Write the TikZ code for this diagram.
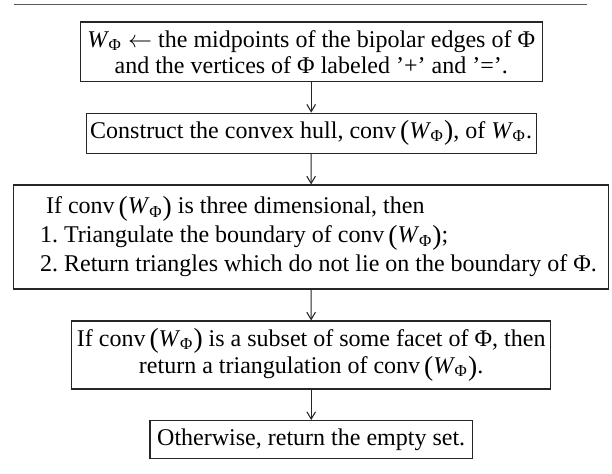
\documentclass[tikz,border=0pt]{standalone}
\usepackage{fontspec}
\setmainfont{Liberation Serif}
\usetikzlibrary{arrows.meta}
\frenchspacing

% W with an upright Phi subscript, and conv(W_Phi) with slightly enlarged parentheses
\newcommand\WPhi{\textit{W}\kern-0.2pt\textsubscript{\upshape Φ}}
\newcommand\lpar{\raisebox{-0.8pt}{\fontsize{11.5}{12}\selectfont(}}
\newcommand\rpar{\raisebox{-0.8pt}{\fontsize{11.5}{12}\selectfont)}}
\newcommand\convW{conv\,\lpar\WPhi\rpar}

\tikzset{
  stepbox/.style={draw=black!85, line width=0.5pt, inner sep=0pt},
  flow/.style={draw=black!85, line width=0.45pt,
    -{Straight Barb[length=3pt,width=3.6pt,line width=0.45pt]}},
  toprule/.style={draw=black!65, line width=0.6pt}
}

\begin{document}
\begin{tikzpicture}[x=0.41667pt, y=-0.41667pt]
\useasboundingbox (0,0) rectangle (612,474);

% rule above the procedure
\coordinate (ruleL) at (14,4.5);
\coordinate (ruleR) at (587,4.5);
\draw[toprule] (ruleL) -- (ruleR);

% the steps
\node[stepbox, align=center, font=\fontsize{10}{10.7}\selectfont,
      minimum width=192.5pt, minimum height=24.9pt]
  (s1) at (311.2,51.9)
  {\WPhi\ $\leftarrow$ the midpoints of the bipolar edges of Φ\\
   and the vertices of Φ labeled ’+’ and ’=’.};

\node[stepbox, align=center, font=\fontsize{10}{12}\selectfont,
      minimum width=187.5pt, minimum height=16.7pt]
  (s2) at (311.2,133.3)
  {Construct the convex hull, \convW, of \WPhi.};

% left-aligned list, set at the left of a wide box
\node[stepbox, font=\fontsize{10}{12}\selectfont,
      inner xsep=11pt, minimum height=43.3pt]
  (s3) at (311.0,237)
  {\makebox[225.75pt][l]{\begin{tabular}{@{}l@{}}
     \hspace{2.5pt}If \convW\ is three dimensional, then\\
     1. Triangulate the boundary of \convW;\\
     2. Return triangles which do not lie on the boundary of Φ.
   \end{tabular}}};

\node[stepbox, align=center, font=\fontsize{10}{11.4}\selectfont,
      minimum width=199.6pt, minimum height=28.3pt]
  (s4) at (311.2,355)
  {If \convW\ is a subset of some facet of Φ, then\\
   return a triangulation of \convW.};

\node[stepbox, align=center, font=\fontsize{10}{12}\selectfont,
      minimum width=134.3pt, minimum height=15.7pt]
  (s5) at (311.2,439.5)
  {Otherwise, return the empty set.};

% connectors
\draw[flow] (s1) -- (s2);
\draw[flow] (s2) -- (s3);
\draw[flow] (s3) -- (s4);
\draw[flow] (s4) -- (s5);
\end{tikzpicture}
\end{document}
